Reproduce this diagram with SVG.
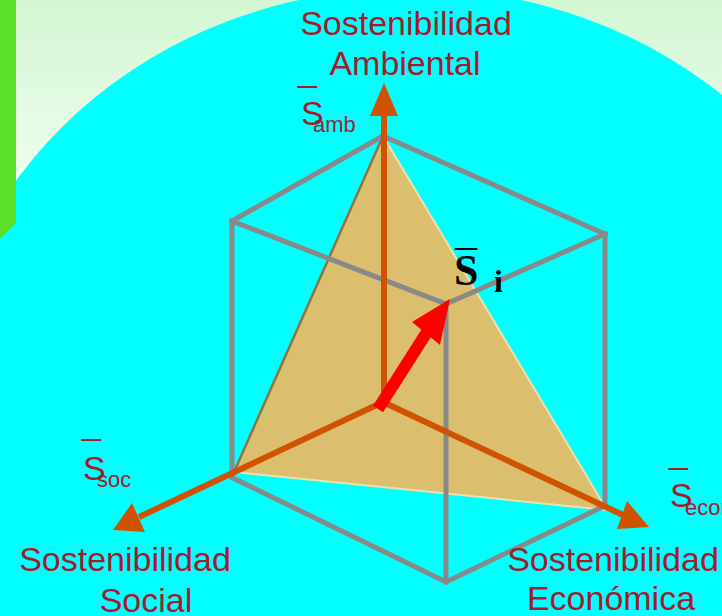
<svg xmlns="http://www.w3.org/2000/svg" width="722" height="616" viewBox="0 0 722 616">
<defs>
<linearGradient id="bg" x1="0" y1="0" x2="0" y2="1">
<stop offset="0" stop-color="#d3f6d3"/>
<stop offset="0.35" stop-color="#f2fff2"/>
<stop offset="1" stop-color="#ffffff"/>
</linearGradient>
<style>
.lbl{font-family:"Liberation Sans",Arial,sans-serif;font-size:34px;fill:#a11d2c;text-anchor:middle}
.sym{font-family:"Liberation Sans",Arial,sans-serif;font-size:34px;fill:#a11d2c}
.sub{font-family:"Liberation Sans",Arial,sans-serif;font-size:22px;fill:#a11d2c}
.edge{stroke:#898989;stroke-width:5;fill:none;stroke-linecap:square}
.axis{stroke:#cf5300;stroke-width:6;fill:none}
.head{fill:#cf5300}
.serif{font-family:"Liberation Serif","Times New Roman",serif;fill:#000}
</style>
</defs>
<rect x="0" y="0" width="722" height="616" fill="url(#bg)"/>
<ellipse cx="410" cy="412" rx="470" ry="424" fill="#00ffff"/>
<polygon points="0,0 16,0 16,223 0,239" fill="#5ae02a"/>

<g id="plane">
<polygon points="383,136 234,472 607,510" fill="#dbbf6e" stroke="#f2e0aa" stroke-width="2"/>
<line x1="383" y1="136" x2="234" y2="472" stroke="#8a7444" stroke-width="2.5"/>
</g>

<g id="connectors">
<g id="cube">
<line class="edge" x1="383" y1="136" x2="232" y2="221"/>
<line class="edge" x1="383" y1="136" x2="605" y2="234"/>
<line class="edge" x1="232" y1="221" x2="446" y2="304"/>
<line class="edge" x1="446" y1="304" x2="605" y2="234"/>
<line class="edge" x1="232" y1="221" x2="232" y2="477"/>
<line class="edge" x1="605" y1="234" x2="605" y2="506"/>
<line class="edge" x1="446" y1="304" x2="446" y2="581"/>
<line class="edge" x1="233" y1="478" x2="446" y2="582"/>
<line class="edge" x1="446" y1="582" x2="600" y2="508"/>
</g>
<g id="axes">
<line class="axis" x1="384" y1="405" x2="384" y2="114"/>
<polygon class="head" points="384,83 370,116 398,116"/>
<line class="axis" x1="383" y1="402" x2="139" y2="517"/>
<polygon class="head" points="113,530 132,503 145,532"/>
<line class="axis" x1="383" y1="402" x2="623" y2="515"/>
<polygon class="head" points="649,527 627,501 617,529"/>
</g>
<g id="vector">
<line x1="378" y1="409" x2="427" y2="332" stroke="#ff0000" stroke-width="12"/>
<polygon points="450,299 412,322 440,345" fill="#ff0000"/>
</g>
</g>

<g id="label-ambiental">
<text class="lbl" x="406" y="35">Sostenibilidad</text>
<text class="lbl" x="405" y="75">Ambiental</text>
</g>
<g id="label-social">
<text class="lbl" x="125" y="571">Sostenibilidad</text>
<text class="lbl" x="146" y="612">Social</text>
</g>
<g id="label-economica">
<text class="lbl" x="613" y="571">Sostenibilidad</text>
<text class="lbl" x="611" y="610">Económica</text>
</g>
<g id="sym-amb">
<text class="sym" x="298" y="81">_</text>
<text class="sym" x="301" y="125">S</text>
<text class="sub" x="313" y="132">amb</text>
</g>
<g id="sym-soc">
<text class="sym" x="82" y="434">_</text>
<text class="sym" x="83" y="480">S</text>
<text class="sub" x="97" y="487">soc</text>
</g>
<g id="sym-econ">
<text class="sym" x="669" y="463">_</text>
<text class="sym" x="670" y="507">S</text>
<text class="sub" x="685" y="515">econ</text>
</g>
<g id="sym-i">
<text class="serif" x="455" y="282" font-size="44">¯</text>
<text class="serif" x="454" y="285" font-weight="bold" font-size="44">S</text>
<text class="serif" x="494" y="292" font-weight="bold" font-size="32">i</text>
</g>
</svg>
